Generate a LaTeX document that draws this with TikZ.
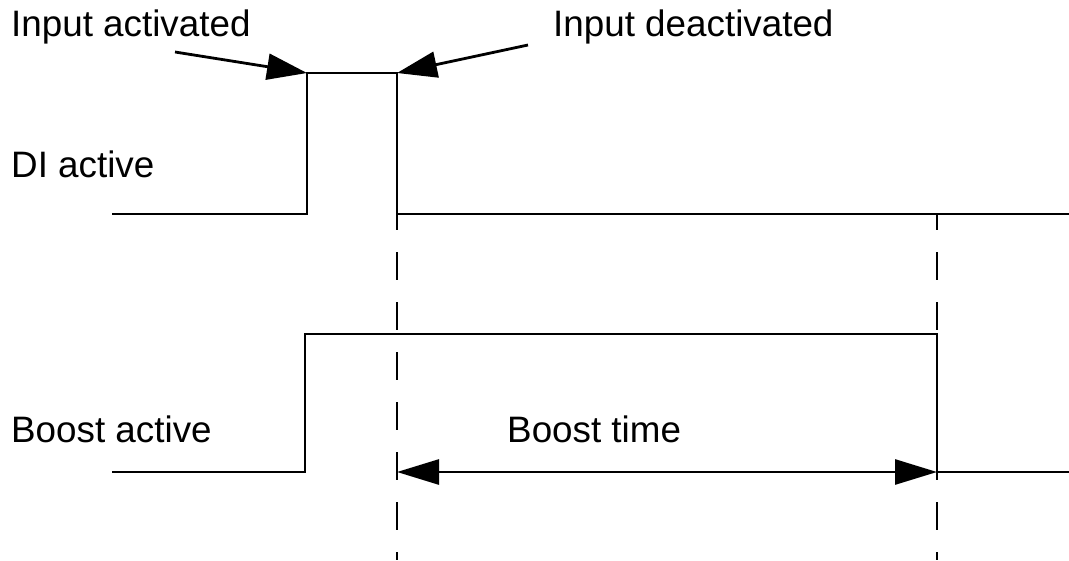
\documentclass[tikz,border=0pt]{standalone}
\usepackage{fontspec}
\setmainfont{Liberation Sans}
\usetikzlibrary{arrows.meta}
\tikzset{
  lbl/.style={anchor=base west, inner sep=0pt, font=\fontsize{36.8}{42}\selectfont},
  sig/.style={line width=2.8pt, line join=miter},
  pointer/.style={line width=2.8pt, -{Triangle[length=40pt,width=26pt]}},
  span/.style={line width=2.8pt, {Triangle[length=42pt,width=25pt]}-{Triangle[length=42pt,width=25pt]}},
  guide/.style={line width=2.8pt, dash pattern=on 28pt off 22pt, dash phase=12pt}
}
\begin{document}
\begin{tikzpicture}[x=1pt,y=-1pt]
\useasboundingbox (0,0) rectangle (1069,560);
% labels
\node[lbl] (inact) at (11,36) {Input activated};
\node[lbl] (indeact) at (553,36) {Input deactivated};
\node[lbl] (di) at (11,177) {DI active};
\node[lbl] (boost) at (11,442) {Boost active};
\node[lbl] (btime) at (507,442) {Boost time};
% key points
\coordinate (diRise) at (307,73);
\coordinate (diFall) at (397,73);
\coordinate (tStart) at (397,472);
\coordinate (tEnd) at (937,472);
\coordinate (a1) at (175,52);
\coordinate (a2) at (528,45);
% guides
\draw[guide] (397,214) -- (397,560);
\draw[guide] (937,214) -- (937,560);
% DI signal
\draw[sig] (112,214) -- (307,214) -- (diRise) -- (diFall) -- (397,214) -- (1069,214);
% Boost signal
\draw[sig] (112,472) -- (305,472) -- (305,334) -- (937,334) -- (tEnd) -- (1069,472);
% pointers
\draw[pointer] (a1) -- (diRise);
\draw[pointer] (a2) -- (diFall);
% boost time span
\draw[span] (tStart) -- (tEnd);
\end{tikzpicture}
\end{document}
